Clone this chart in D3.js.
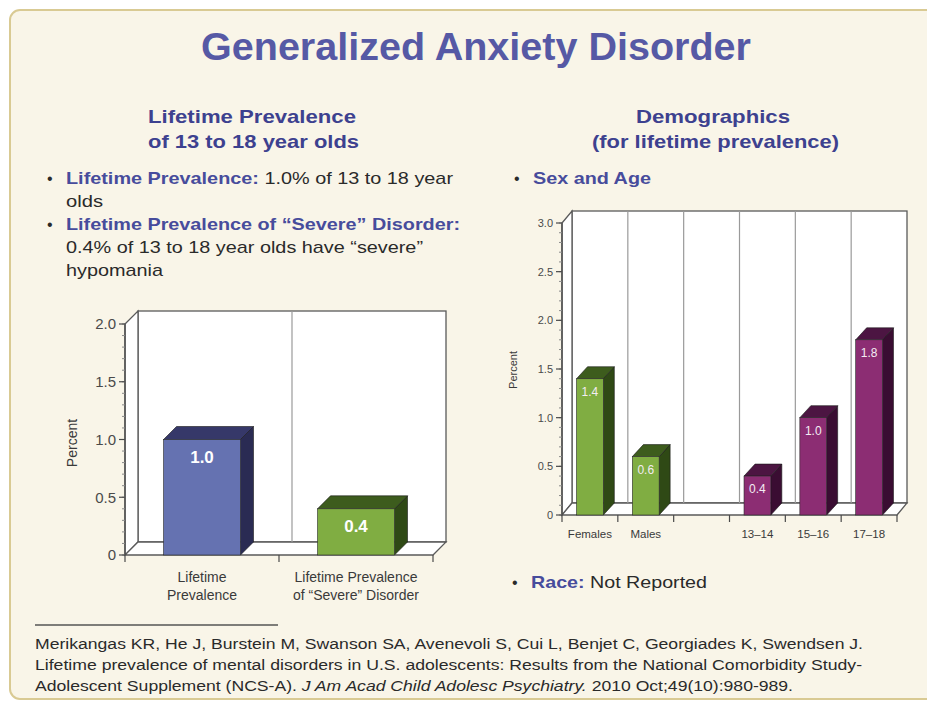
<!DOCTYPE html>
<html>
<head>
<meta charset="utf-8">
<script src="https://cdn.jsdelivr.net/npm/d3@7"></script>
<style>
  html, body { margin: 0; padding: 0; background: #ffffff; }
  svg { display: block; font-family: "Liberation Sans", Arial, sans-serif; }
</style>
</head>
<body>
<svg id="slide" width="927" height="707"></svg>
<script>
// left chart data
const leftCats = ["Lifetime Prevalence", "Severe Disorder"];
const leftLabels = [["Lifetime", "Prevalence"], ["Lifetime Prevalence", "of \u201cSevere\u201d Disorder"]];
const leftValues = [1.0, 0.4];
const leftTicks = [0, 0.5, 1.0, 1.5, 2.0];

// right chart data (the empty category is the gap between sex and age)
const rightCats = ["Females", "Males", "", "13\u201314", "15\u201316", "17\u201318"];
const rightValues = [1.4, 0.6, null, 0.4, 1.0, 1.8];
const rightGroups = ["sex", "sex", null, "age", "age", "age"];
const rightTicks = [0, 0.5, 1.0, 1.5, 2.0, 2.5, 3.0];

const svg = d3.select('#slide');

// colours
const titleBlue = '#5659a5';
const headBlue = '#3d418f';
const labelBlue = '#474c9c';
const textDark = '#2a2a2a';
const barColors = {
    blue: { front: '#6572b1', top: '#363869', side: '#2a2b53' },
    green: { front: '#80ad42', top: '#3d5c1d', side: '#2f4915' },
    magenta: { front: '#8c2d73', top: '#4c1542', side: '#3a0d32' }
};

// squeeze a text element to a measured width
function fit(sel, w) {
    sel.attr('textLength', w).attr('lengthAdjust', 'spacingAndGlyphs');
    return sel;
}

// panel background
svg.append('rect')
    .attr('x', 10).attr('y', 10)
    .attr('width', 940).attr('height', 689)
    .attr('rx', 10)
    .attr('fill', '#f9f5e8')
    .attr('stroke', '#d9ca93')
    .attr('stroke-width', 2);

// title
fit(svg.append('text')
    .attr('x', 201).attr('y', 60)
    .attr('font-size', 38).attr('font-weight', 'bold')
    .attr('fill', titleBlue)
    .text('Generalized Anxiety Disorder'), 550);

// section headings
function heading(x, y, w, str) {
    fit(svg.append('text')
        .attr('x', x).attr('y', y)
        .attr('font-size', 19).attr('font-weight', 'bold')
        .attr('fill', headBlue)
        .text(str), w);
}
heading(148, 123, 208, 'Lifetime Prevalence');
heading(148, 148, 211, 'of 13 to 18 year olds');
heading(636, 123, 154, 'Demographics');
heading(592, 148, 247, '(for lifetime prevalence)');

// bullet lines: [x, y, boldPart, normalPart, width]
function bulletLine(x, y, bold, normal, w, bullet) {
    if (bullet) {
        svg.append('text')
            .attr('x', x - 19).attr('y', y)
            .attr('font-size', 16).attr('fill', textDark)
            .text('\u2022');
    }
    let t = svg.append('text')
        .attr('x', x).attr('y', y)
        .attr('font-size', 17).attr('fill', textDark);
    if (bold) {
        t.append('tspan').attr('font-weight', 'bold').attr('fill', labelBlue).text(bold);
    }
    if (normal) {
        t.append('tspan').text(normal);
    }
    if (w) fit(t, w);
}
bulletLine(66, 184, 'Lifetime Prevalence:', ' 1.0% of 13 to 18 year', 387, true);
bulletLine(66, 207, null, 'olds', 37, false);
bulletLine(66, 230, 'Lifetime Prevalence of \u201cSevere\u201d Disorder:', null, 394, true);
bulletLine(66, 253, null, '0.4% of 13 to 18 year olds have \u201csevere\u201d', 357, false);
bulletLine(66, 276, null, 'hypomania', 97, false);
bulletLine(533, 184, 'Sex and Age', null, 118, true);
bulletLine(531, 588, 'Race:', ' Not Reported', 176, true);

// draws a pseudo 3D bar chart
function drawChart(opt) {
    let g = svg.append('g');
    let xScale = d3.scaleBand().domain(opt.cats).range([opt.x0, opt.x1]);
    let yScale = d3.scaleLinear().domain(opt.domain).range([opt.y0, opt.yTop]);
    let dx = opt.dx, dy = opt.dy;
    let y0 = opt.y0;
    let wallTop = opt.yTop + dy;

    // back wall
    g.append('rect')
        .attr('x', opt.x0 + dx).attr('y', wallTop)
        .attr('width', opt.x1 - opt.x0).attr('height', y0 - opt.yTop)
        .attr('fill', '#ffffff').attr('stroke', '#5a5a5a').attr('stroke-width', 1.3);
    // left wall
    g.append('polygon')
        .attr('points', [[opt.x0, opt.yTop], [opt.x0 + dx, wallTop], [opt.x0 + dx, y0 + dy], [opt.x0, y0]].join(' '))
        .attr('fill', '#ffffff').attr('stroke', '#5a5a5a').attr('stroke-width', 1.3);
    // floor
    g.append('polygon')
        .attr('points', [[opt.x0, y0], [opt.x1, y0], [opt.x1 + dx, y0 + dy], [opt.x0 + dx, y0 + dy]].join(' '))
        .attr('fill', '#ffffff').attr('stroke', '#5a5a5a').attr('stroke-width', 1.3);

    // dividers between categories on the back wall
    g.selectAll('.divider')
        .data(opt.cats.slice(1))
        .join('line')
        .attr('class', 'divider')
        .attr('x1', d => xScale(d) + dx).attr('x2', d => xScale(d) + dx)
        .attr('y1', wallTop).attr('y2', y0 + dy)
        .attr('stroke', '#9a9a9a').attr('stroke-width', 1.2);

    // y axis with minor ticks
    let minor = d3.range(opt.domain[0], opt.domain[1] + 0.001, 0.1);
    g.append('line')
        .attr('x1', opt.x0).attr('x2', opt.x0)
        .attr('y1', opt.yTop).attr('y2', y0)
        .attr('stroke', '#4a4a4a').attr('stroke-width', 1.3);
    g.selectAll('.minor')
        .data(minor)
        .join('line')
        .attr('class', 'minor')
        .attr('x1', opt.x0 - 3).attr('x2', opt.x0)
        .attr('y1', d => yScale(d)).attr('y2', d => yScale(d))
        .attr('stroke', '#8a8a8a').attr('stroke-width', 1);
    g.selectAll('.major')
        .data(opt.ticks)
        .join('line')
        .attr('class', 'major')
        .attr('x1', opt.x0 - 6).attr('x2', opt.x0)
        .attr('y1', d => yScale(d)).attr('y2', d => yScale(d))
        .attr('stroke', '#4a4a4a').attr('stroke-width', 1.2);
    g.selectAll('.ytick')
        .data(opt.ticks)
        .join('text')
        .attr('class', 'ytick')
        .attr('x', opt.x0 - 9).attr('y', d => yScale(d))
        .attr('dy', '0.35em')
        .attr('text-anchor', 'end')
        .attr('font-size', opt.tickSize).attr('fill', '#4a4a4a')
        .text(d => d === 0 ? '0' : d3.format('.1f')(d));

    // y label
    g.append('text')
        .attr('transform', `translate(${opt.yLabelX},${opt.yLabelY}) rotate(-90)`)
        .attr('text-anchor', 'middle')
        .attr('font-size', opt.yLabelSize).attr('fill', '#3a3a3a')
        .text('Percent');

    // x ticks on front edge
    let bounds = opt.cats.map(d => xScale(d)).concat([opt.x1]);
    g.selectAll('.xtick')
        .data(bounds)
        .join('line')
        .attr('class', 'xtick')
        .attr('x1', d => d).attr('x2', d => d)
        .attr('y1', y0).attr('y2', y0 + 7)
        .attr('stroke', '#4a4a4a').attr('stroke-width', 1.2);

    // bars
    let bw = xScale.bandwidth() * opt.barFrac;
    let bars = opt.cats.map((c, i) => ({ cat: c, v: opt.values[i], col: opt.colors[i] }))
        .filter(d => d.v !== null);
    let bar = g.selectAll('.bar').data(bars).join('g').attr('class', 'bar');
    let bx = d => xScale(d.cat) + (xScale.bandwidth() - bw) / 2;
    let bdx = opt.bdx, bdy = opt.bdy;
    bar.append('polygon')
        .attr('points', d => {
            let x = bx(d), y = yScale(d.v);
            return [[x + bw, y], [x + bw + bdx, y + bdy], [x + bw + bdx, y0 + bdy], [x + bw, y0]].join(' ');
        })
        .attr('fill', d => barColors[d.col].side)
        .attr('stroke', '#1a1a1a').attr('stroke-width', 0.6);
    bar.append('polygon')
        .attr('points', d => {
            let x = bx(d), y = yScale(d.v);
            return [[x, y], [x + bw, y], [x + bw + bdx, y + bdy], [x + bdx, y + bdy]].join(' ');
        })
        .attr('fill', d => barColors[d.col].top)
        .attr('stroke', '#1a1a1a').attr('stroke-width', 0.6);
    bar.append('rect')
        .attr('x', bx).attr('y', d => yScale(d.v))
        .attr('width', bw).attr('height', d => y0 - yScale(d.v))
        .attr('fill', d => barColors[d.col].front)
        .attr('stroke', '#2a2a2a').attr('stroke-width', 0.6);
    bar.append('text')
        .attr('x', d => bx(d) + bw / 2)
        .attr('y', d => yScale(d.v) + opt.valueOffset)
        .attr('text-anchor', 'middle')
        .attr('font-size', opt.valueSize)
        .attr('font-weight', opt.valueWeight)
        .attr('fill', opt.valueColor)
        .text(d => d3.format('.1f')(d.v));

    // category labels
    g.selectAll('.xlabel')
        .data(opt.cats)
        .join('text')
        .attr('class', 'xlabel')
        .attr('x', d => xScale(d) + xScale.bandwidth() / 2)
        .attr('y', opt.labelY)
        .attr('text-anchor', 'middle')
        .attr('font-size', opt.labelSize).attr('fill', '#3a3a3a')
        .each(function (d, i) {
            let lines = opt.labels[i];
            d3.select(this).selectAll('tspan')
                .data(lines)
                .join('tspan')
                .attr('x', xScale(d) + xScale.bandwidth() / 2)
                .attr('dy', (l, j) => j === 0 ? 0 : opt.labelLine)
                .text(l => l);
        });
}

drawChart({
    cats: leftCats, values: leftValues, ticks: leftTicks, labels: leftLabels,
    colors: ['blue', 'green'],
    domain: [0, 2], x0: 125, x1: 433, y0: 555, yTop: 324, dx: 13, dy: -13,
    bdx: 13, bdy: -13, barFrac: 0.5,
    tickSize: 15, yLabelX: 77, yLabelY: 443, yLabelSize: 14,
    valueOffset: 23, valueSize: 17, valueWeight: 'bold', valueColor: '#ffffff',
    labelY: 582, labelSize: 14, labelLine: 18
});

drawChart({
    cats: rightCats, values: rightValues, ticks: rightTicks,
    labels: rightCats.map(d => [d]),
    colors: rightGroups.map(g => g === 'sex' ? 'green' : 'magenta'),
    domain: [0, 3], x0: 562, x1: 897, y0: 515, yTop: 223, dx: 10, dy: -12,
    bdx: 11, bdy: -12, barFrac: 0.48,
    tickSize: 11, yLabelX: 517, yLabelY: 370, yLabelSize: 11,
    valueOffset: 17, valueSize: 12, valueWeight: 'normal', valueColor: '#f3ecf3',
    labelY: 538, labelSize: 11.5, labelLine: 14
});

// reference rule and citation
svg.append('line')
    .attr('x1', 35).attr('x2', 278).attr('y1', 625).attr('y2', 625)
    .attr('stroke', '#555555').attr('stroke-width', 1.3);

let cite1 = svg.append('text').attr('x', 35).attr('y', 649).attr('font-size', 15.5).attr('fill', textDark)
    .text('Merikangas KR, He J, Burstein M, Swanson SA, Avenevoli S, Cui L, Benjet C, Georgiades K, Swendsen J.');
fit(cite1, 828);
let cite2 = svg.append('text').attr('x', 35).attr('y', 670).attr('font-size', 15.5).attr('fill', textDark)
    .text('Lifetime prevalence of mental disorders in U.S. adolescents: Results from the National Comorbidity Study-');
fit(cite2, 827);
let cite3 = svg.append('text').attr('x', 35).attr('y', 691).attr('font-size', 15.5).attr('fill', textDark);
cite3.append('tspan').text('Adolescent Supplement (NCS-A). ');
cite3.append('tspan').attr('font-style', 'italic').text('J Am Acad Child Adolesc Psychiatry.');
cite3.append('tspan').text(' 2010 Oct;49(10):980-989.');
fit(cite3, 758);
</script>
</body>
</html>
